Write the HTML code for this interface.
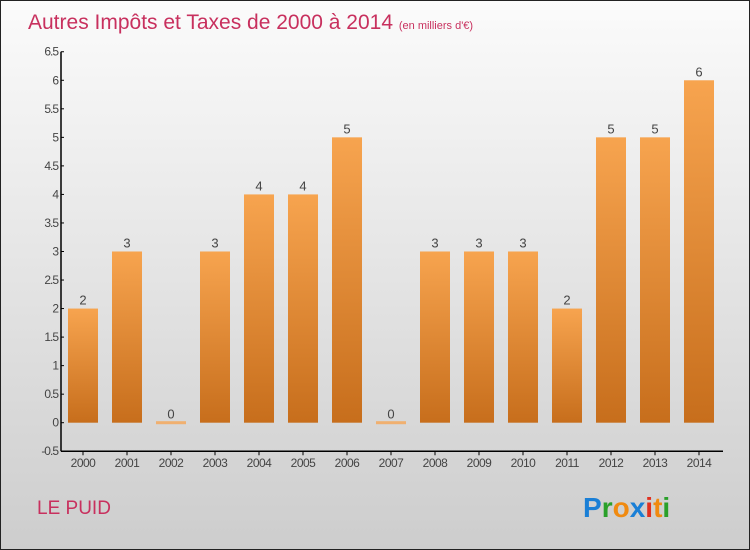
<!DOCTYPE html>
<html><head><meta charset="utf-8"><style>
body{margin:0}
#c{width:750px;height:550px;position:relative;box-sizing:border-box;border:1px solid #222;background:linear-gradient(#fbfbfb,#cdcdcd);font-family:"Liberation Sans",sans-serif;overflow:hidden}
</style></head><body>
<div id="c">
<svg width="750" height="550" style="position:absolute;left:0;top:0">
<defs><linearGradient id="bg" x1="0" y1="0" x2="0" y2="1"><stop offset="0" stop-color="#f7a44f"/><stop offset="1" stop-color="#c76e1c"/></linearGradient></defs>
<text x="27" y="28" font-size="21" fill="#c8305e">Autres Impôts et Taxes de 2000 à 2014 <tspan font-size="11">(en milliers d'€)</tspan></text>
<g id="plot"></g>
<text x="36" y="513" font-size="19" fill="#c8305e">LE PUID</text>
<g font-size="28" font-weight="bold">
<text x="582" y="516"><tspan fill="#1a7fd6">P</tspan><tspan fill="#2aa02a">r</tspan><tspan fill="#f08a10">o</tspan><tspan fill="#1a7fd6">x</tspan><tspan fill="#e03020">i</tspan><tspan fill="#f08a10">t</tspan><tspan fill="#2aa02a">i</tspan></text></g>
</svg>
</div>
<script>
const years=["2000","2001","2002","2003","2004","2005","2006","2007","2008","2009","2010","2011","2012","2013","2014"];
const values=[2,3,0,3,4,4,5,0,3,3,3,2,5,5,6];
const ticks=[-0.5,0,0.5,1,1.5,2,2.5,3,3.5,4,4.5,5,5.5,6,6.5];
const NS="http://www.w3.org/2000/svg";
const g=document.getElementById('plot');
const y=v=>421.7-v*57.07;
const x=i=>82+i*44;
function el(t,a,p){const e=document.createElementNS(NS,t);for(const k in a)e.setAttribute(k,a[k]);(p||g).appendChild(e);return e;}
const ya=el('line',{x1:60,y1:y(6.5),x2:60,y2:y(-0.5),stroke:'#000','stroke-width':1.5});


const xa=el('line',{x1:60,y1:y(-0.5),x2:722,y2:y(-0.5),stroke:'#000','stroke-width':1.5});


ticks.forEach(t=>{
 el('line',{x1:60,x2:63,y1:y(t),y2:y(t),stroke:'#000'});
 const tx=el('text',{x:57,y:y(t)+4,'text-anchor':'end','font-size':12,fill:'#444','letter-spacing':'-1'});
 tx.textContent=(t===1?'1':String(t));
 
 
});
years.forEach((yr,i)=>{
 const v=values[i];
 el('line',{x1:x(i),x2:x(i),y1:y(-0.5),y2:y(-0.5)+4,stroke:'#000'});
 const lb=el('text',{x:x(i),y:466,'text-anchor':'middle','font-size':12,fill:'#444','letter-spacing':'-0.5'});
 lb.textContent=yr;
 
 
 let b;
 if(v===0){b=el('rect',{x:x(i)-15,y:y(0)-1.5,width:30,height:3,fill:'#f0b070'});}
 else{b=el('rect',{x:x(i)-15,y:y(v),width:30,height:y(0)-y(v),fill:'url(#bg)'});}
 
 
 const vl=el('text',{x:x(i),y:y(v)-4,'text-anchor':'middle','font-size':13,fill:'#444'});
 vl.textContent=v;
 
 
});
</script>
</body></html>
